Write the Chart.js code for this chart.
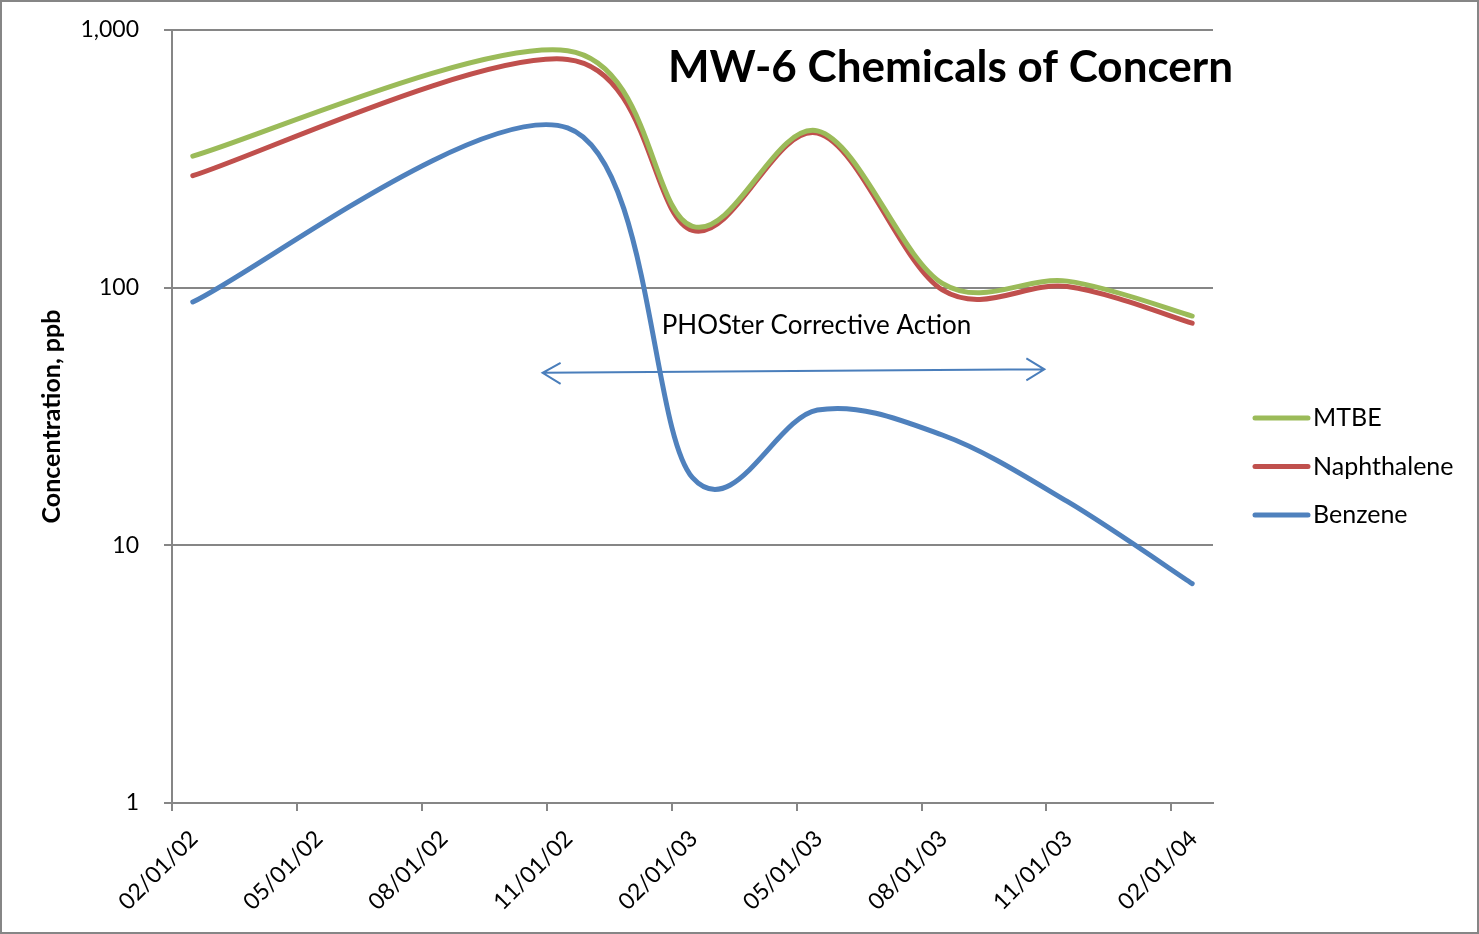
<!DOCTYPE html>
<html>
<head>
<meta charset="utf-8">
<script src="https://cdn.jsdelivr.net/npm/chart.js@4.4.1/dist/chart.umd.min.js"></script>
<style>
  html, body { margin: 0; padding: 0; background: #fff; }
  canvas { display: block; }
</style>
</head>
<body>
<canvas id="chart" width="1479" height="934"></canvas>
<script>
// Quarterly sampling months and results (ppb)
const sampleMonths = ['2002-02', '2002-11', '2003-02', '2003-05', '2003-08', '2003-11', '2004-02'];
const mtbe        = [324, 831, 173, 406, 104, 106, 77.6];
const naphthalene = [272, 769, 167, 398, 98, 101, 72.8];
const benzene     = [88, 417, 18.3, 33.5, 26.8, 14.8, 7.1];

// Axis labels
const xTickLabels = ['02/01/02', '05/01/02', '08/01/02', '11/01/02', '02/01/03',
                     '05/01/03', '08/01/03', '11/01/03', '02/01/04'];
const yTickValues = [1, 10, 100, 1000];

// Corrective action span (in axis units: months since Feb 2002, ppb)
const actionLabel = 'PHOSter Corrective Action';
const actionFrom = { x: 8.9, y: 46.7 };
const actionTo = { x: 20.95, y: 48.2 };
const actionText = { x: 11.76, y: 71 };

const FONT = 'Lato, "Open Sans", sans-serif';
const GRID = '#868686';

// months counted from Feb 2002, each sample sits mid-month
function monthIndex(s) {
    const [y, m] = s.split('-').map(Number);
    return (y - 2002) * 12 + (m - 2);
}
function tickMonth(label) {
    const [mm, dd, yy] = label.split('/').map(Number);
    return (2000 + yy - 2002) * 12 + (mm - 2);
}
const xs = sampleMonths.map(s => monthIndex(s) + 0.5);
const xTickValues = xTickLabels.map(tickMonth);
const toPoints = arr => arr.map((v, i) => ({ x: xs[i], y: v }));

// Excel-like smoothing: uniform Catmull-Rom control points
const excelSmooth = {
    id: 'excelSmooth',
    beforeDatasetDraw(chart, args) {
        const meta = args.meta;
        meta.dataset.updateControlPoints(chart.chartArea, meta.iScale.axis);
        const pts = meta.data;
        for (let i = 0; i < pts.length; i++) {
            const p = pts[i];
            const prev = pts[Math.max(i - 1, 0)];
            const next = pts[Math.min(i + 1, pts.length - 1)];
            const dx = (next.x - prev.x) / 6;
            const dy = (next.y - prev.y) / 6;
            p.cp1x = p.x - dx; p.cp1y = p.y - dy;
            p.cp2x = p.x + dx; p.cp2y = p.y + dy;
        }
    }
};

// outer frame
const frame = {
    id: 'frame',
    beforeDraw(chart) {
        const ctx = chart.ctx;
        ctx.save();
        ctx.fillStyle = '#fff';
        ctx.fillRect(0, 0, chart.width, chart.height);
        ctx.strokeStyle = GRID;
        ctx.lineWidth = 2;
        ctx.strokeRect(1, 1, chart.width - 2, chart.height - 2);
        ctx.restore();
    }
};

// arrow + text for the corrective action period
const actionArrow = {
    id: 'actionArrow',
    beforeDatasetsDraw(chart) {
        const ctx = chart.ctx;
        const xS = chart.scales.x, yS = chart.scales.y;
        const x1 = xS.getPixelForValue(actionFrom.x), y1 = yS.getPixelForValue(actionFrom.y);
        const x2 = xS.getPixelForValue(actionTo.x), y2 = yS.getPixelForValue(actionTo.y);
        ctx.save();
        ctx.strokeStyle = '#4a7ebb';
        ctx.lineWidth = 2;
        ctx.beginPath();
        ctx.moveTo(x1, y1);
        ctx.lineTo(x2, y2);
        ctx.moveTo(x1 + 18, y1 - 10); ctx.lineTo(x1, y1); ctx.lineTo(x1 + 18, y1 + 11);
        ctx.moveTo(x2 - 18, y2 - 11); ctx.lineTo(x2, y2); ctx.lineTo(x2 - 18, y2 + 11);
        ctx.stroke();

        ctx.fillStyle = '#000';
        ctx.font = '26px ' + FONT;
        ctx.textBaseline = 'middle';
        ctx.textAlign = 'left';
        ctx.fillText(actionLabel, xS.getPixelForValue(actionText.x), yS.getPixelForValue(actionText.y));
        ctx.restore();
    }
};

// title inside the plot + legend with line samples
const overlay = {
    id: 'overlay',
    afterDraw(chart) {
        const ctx = chart.ctx;
        const area = chart.chartArea;
        ctx.save();
        ctx.fillStyle = '#000';
        ctx.font = 'bold 44px ' + FONT;
        ctx.textAlign = 'right';
        ctx.textBaseline = 'middle';
        ctx.fillText('MW-6 Chemicals of Concern', area.right + 20, area.top + 38);

        ctx.font = '25px ' + FONT;
        ctx.textAlign = 'left';
        chart.data.datasets.forEach((ds, i) => {
            const y = area.top + 388 + i * 48.5;
            const x = area.right + 42;
            ctx.strokeStyle = ds.borderColor;
            ctx.lineWidth = 5;
            ctx.lineCap = 'round';
            ctx.beginPath();
            ctx.moveTo(x, y);
            ctx.lineTo(x + 53, y);
            ctx.stroke();
            ctx.fillText(ds.label, x + 58, y);
        });
        ctx.restore();
    }
};

const lineStyle = {
    borderWidth: 5,
    borderCapStyle: 'round',
    borderJoinStyle: 'round',
    pointRadius: 0,
    tension: 0.4,
    fill: false
};

new Chart(document.getElementById('chart'), {
    type: 'line',
    data: {
        datasets: [
            { label: 'MTBE', data: toPoints(mtbe), borderColor: '#9bbb59', ...lineStyle },
            { label: 'Naphthalene', data: toPoints(naphthalene), borderColor: '#c0504d', ...lineStyle },
            { label: 'Benzene', data: toPoints(benzene), borderColor: '#4f81bd', ...lineStyle }
        ]
    },
    options: {
        responsive: false,
        animation: false,
        layout: { padding: { left: 0, right: 266, top: 30, bottom: 0 } },
        plugins: {
            legend: { display: false },
            tooltip: { enabled: false }
        },
        scales: {
            x: {
                type: 'linear',
                min: 0,
                max: xTickValues[xTickValues.length - 1] + 1,
                afterBuildTicks: s => { s.ticks = xTickValues.map(v => ({ value: v })); },
                afterFit: s => { s.height = 131; s.paddingLeft = 0; s.paddingRight = 0; },
                grid: { drawOnChartArea: false, drawTicks: true, tickLength: 8, color: GRID, lineWidth: 2 },
                border: { color: GRID, width: 2 },
                ticks: {
                    autoSkip: false,
                    maxRotation: 45,
                    minRotation: 45,
                    padding: 14,
                    labelOffset: 22,
                    color: '#000',
                    font: { family: FONT, size: 23 },
                    callback: (v, i) => xTickLabels[i]
                }
            },
            y: {
                type: 'logarithmic',
                min: 1,
                max: 1000,
                afterBuildTicks: s => { s.ticks = yTickValues.map(v => ({ value: v })); },
                afterFit: s => { s.width = 172; s.paddingTop = 0; s.paddingBottom = 0; },
                grid: { color: GRID, lineWidth: 2, tickLength: 8 },
                border: { color: GRID, width: 2 },
                ticks: {
                    padding: 25,
                    color: '#000',
                    font: { family: FONT, size: 23 },
                    callback: v => v.toLocaleString('en-US')
                },
                title: {
                    display: true,
                    text: 'Concentration, ppb',
                    color: '#000',
                    font: { family: FONT, size: 25, weight: 'bold' },
                    padding: { top: 37, bottom: 0 }
                }
            }
        }
    },
    plugins: [frame, excelSmooth, actionArrow, overlay]
});
</script>
</body>
</html>
